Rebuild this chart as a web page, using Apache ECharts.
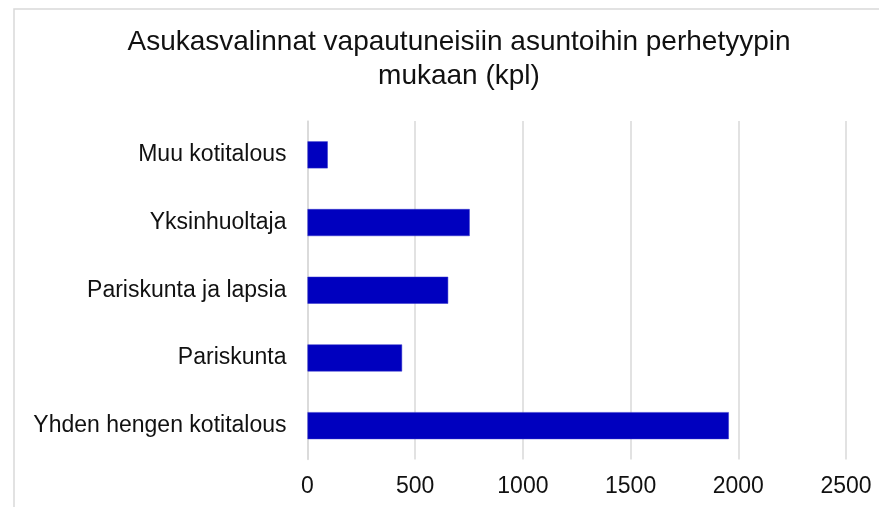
<!DOCTYPE html>
<html>
<head>
<meta charset="utf-8">
<script src="https://cdn.jsdelivr.net/npm/echarts@6/dist/echarts.min.js"></script>
<style>
  html, body { margin: 0; padding: 0; background: #fff; }
  #chart { width: 879px; height: 507px; }
</style>
</head>
<body>
<div id="chart"></div>
<script>
  // perhetyypit alhaalta ylös
  var categories = ['Yhden hengen kotitalous', 'Pariskunta', 'Pariskunta ja lapsia', 'Yksinhuoltaja', 'Muu kotitalous'];
  var values = [1956, 439, 653, 753, 94];
  var titleText = 'Asukasvalinnat vapautuneisiin asuntoihin perhetyypin\nmukaan (kpl)';

  var myChart = echarts.init(document.getElementById('chart'));
  var option = {
    backgroundColor: '#fff',
    textStyle: { fontFamily: 'Liberation Sans, Arial, sans-serif' },
    title: {
      text: titleText,
      left: 454,
      top: 20,
      textAlign: 'center',
      textStyle: {
        fontSize: 28,
        fontWeight: 'normal',
        color: '#111',
        lineHeight: 34,
        fontFamily: 'Liberation Sans, Arial, sans-serif'
      }
    },
    graphic: [{
      type: 'rect',
      shape: { x: 14, y: 9, width: 1000, height: 1000 },
      style: { fill: 'none', stroke: '#d9d9d9', lineWidth: 1.5 },
      silent: true
    }],
    grid: {
      left: 307.5,
      right: 33,
      top: 121,
      bottom: 47.5
    },
    xAxis: {
      type: 'value',
      min: 0,
      max: 2500,
      interval: 500,
      axisLine: { show: false },
      axisTick: { show: false },
      splitLine: { lineStyle: { color: '#d9d9d9', width: 1.5 } },
      axisLabel: {
        color: '#111',
        fontSize: 23,
        margin: 16,
        formatter: function (v) { return String(v); }
      }
    },
    yAxis: {
      type: 'category',
      data: categories,
      axisLine: { show: true, lineStyle: { color: '#d9d9d9', width: 1.5 } },
      axisTick: { show: false },
      axisLabel: { color: '#111', fontSize: 23, margin: 21 }
    },
    series: [{
      type: 'bar',
      data: values,
      barWidth: 27,
      itemStyle: { color: '#0000BF', borderColor: '#3333cc', borderWidth: 0.5 }
    }]
  };
  myChart.setOption(option);
</script>
</body>
</html>
